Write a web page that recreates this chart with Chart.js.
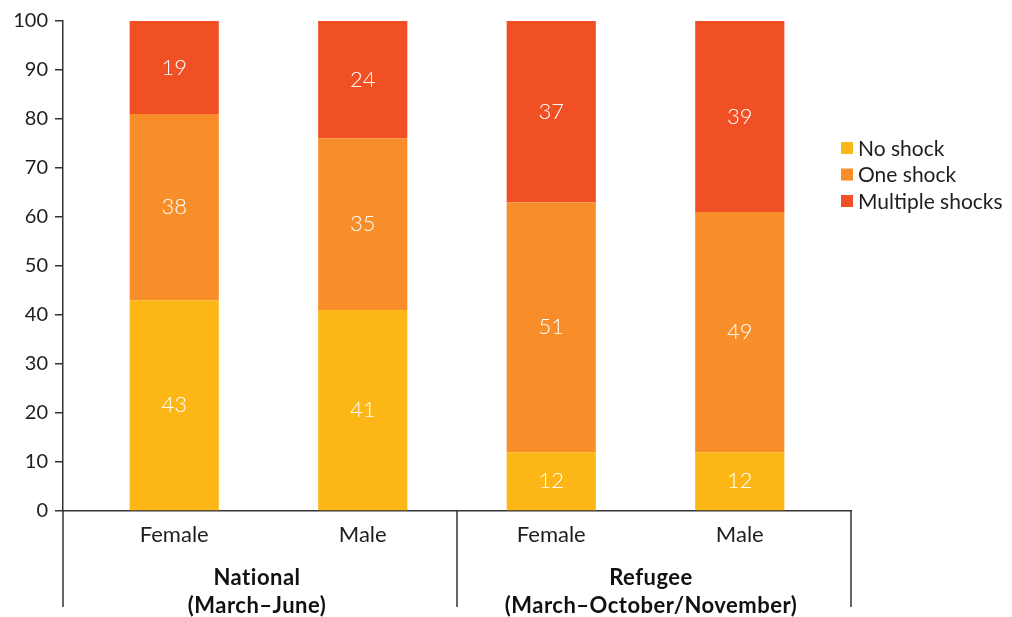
<!DOCTYPE html>
<html>
<head>
<meta charset="utf-8">
<title>Shocks by sex</title>
<script src="https://cdn.jsdelivr.net/npm/chart.js@4.4.1/dist/chart.umd.min.js"></script>
<style>
  html, body { margin: 0; padding: 0; background: #fff; }
  canvas { display: block; }
</style>
</head>
<body>
<canvas id="shockChart" width="1012" height="617"></canvas>
<script>
// chart data
const categories = ['Female', 'Male', 'Female', 'Male'];
const groupTitles = [['National', '(March–June)'], ['Refugee', '(March–October/November)']];
const seriesNames = ['No shock', 'One shock', 'Multiple shocks'];
const noShock = [43, 41, 12, 12];
const oneShock = [38, 35, 51, 49];
const multipleShocks = [19, 24, 37, 39];
const yTicks = [0, 10, 20, 30, 40, 50, 60, 70, 80, 90, 100];

const colors = ['#fcb716', '#f78e2a', '#f05024'];
const axisColor = '#333';
const textColor = '#1e1e1e';
const fontFamily = 'Lato, "Open Sans", sans-serif';

// bars sit at x = 1..4 on a linear index axis
const toPoints = arr => arr.map((v, i) => ({ x: i + 1, y: v }));

// white value text in the middle of each segment
const segmentLabels = {
    id: 'segmentLabels',
    afterDatasetsDraw(chart) {
        const ctx = chart.ctx;
        ctx.save();
        ctx.font = '300 22px ' + fontFamily;
        ctx.fillStyle = '#fff';
        ctx.textAlign = 'center';
        ctx.textBaseline = 'middle';
        chart.data.datasets.forEach((ds, di) => {
            chart.getDatasetMeta(di).data.forEach((bar, i) => {
                ctx.fillText(String(ds.data[i].y), bar.x, (bar.y + bar.base) / 2);
            });
        });
        ctx.restore();
    }
};

// group separators below the axis and the two group titles
const groupAxis = {
    id: 'groupAxis',
    afterDraw(chart) {
        const ctx = chart.ctx;
        const x = chart.scales.x;
        const area = chart.chartArea;
        const bottom = area.bottom + 96;
        const edges = [x.getPixelForValue(x.min), x.getPixelForValue(2.5), x.getPixelForValue(x.max)];
        ctx.save();
        ctx.strokeStyle = axisColor;
        ctx.lineWidth = 1.5;
        edges.forEach(px => {
            ctx.beginPath();
            ctx.moveTo(px, area.bottom);
            ctx.lineTo(px, bottom);
            ctx.stroke();
        });
        ctx.fillStyle = '#111';
        ctx.font = 'bold 22px ' + fontFamily;
        ctx.letterSpacing = '0.5px';
        ctx.textAlign = 'center';
        ctx.textBaseline = 'middle';
        groupTitles.forEach((lines, g) => {
            const cx = (edges[g] + edges[g + 1]) / 2 - 3;
            lines.forEach((line, l) => {
                ctx.fillText(line, cx, area.bottom + 67 + l * 28);
            });
        });
        ctx.restore();
    }
};

// legend to the right of the bars
const sideLegend = {
    id: 'sideLegend',
    afterDraw(chart) {
        const ctx = chart.ctx;
        const left = 841, top = 148, step = 26.5;
        ctx.save();
        ctx.font = '21px ' + fontFamily;
        ctx.textBaseline = 'middle';
        chart.data.datasets.forEach((ds, i) => {
            const y = top + i * step;
            ctx.fillStyle = ds.backgroundColor;
            ctx.fillRect(left, y - 6, 12, 12);
            ctx.fillStyle = textColor;
            ctx.fillText(ds.label, left + 17, y + 1);
        });
        ctx.restore();
    }
};

const ctx = document.getElementById('shockChart').getContext('2d');
const shockChart = new Chart(ctx, {
    type: 'bar',
    data: {
        datasets: [
            { label: seriesNames[0], data: toPoints(noShock), backgroundColor: colors[0] },
            { label: seriesNames[1], data: toPoints(oneShock), backgroundColor: colors[1] },
            { label: seriesNames[2], data: toPoints(multipleShocks), backgroundColor: colors[2] }
        ]
    },
    options: {
        responsive: false,
        animation: false,
        devicePixelRatio: 1,
        layout: { padding: { top: 21, right: 161, left: 0, bottom: 0 } },
        datasets: { bar: { categoryPercentage: 1, barPercentage: 0.473 } },
        scales: {
            x: {
                type: 'linear',
                offset: false,
                min: 0.41,
                max: 4.59,
                stacked: true,
                afterBuildTicks: s => { s.ticks = categories.map((c, i) => ({ value: i + 1 })); },
                afterFit: s => { s.height = 106; },
                grid: { display: false, drawTicks: false },
                border: { color: axisColor, width: 1.5 },
                ticks: {
                    padding: 11,
                    autoSkip: false,
                    maxRotation: 0,
                    color: textColor,
                    font: { family: fontFamily, size: 22 },
                    callback: v => categories[v - 1]
                }
            },
            y: {
                min: 0,
                max: 100,
                stacked: true,
                afterBuildTicks: s => { s.ticks = yTicks.map(v => ({ value: v })); },
                afterFit: s => { s.width = 63; },
                grid: { drawOnChartArea: false, tickLength: 8, color: axisColor, lineWidth: 1.5 },
                border: { color: axisColor, width: 1.5 },
                ticks: {
                    padding: 7,
                    color: textColor,
                    font: { family: fontFamily, size: 20 }
                }
            }
        },
        plugins: {
            legend: { display: false },
            tooltip: { enabled: false }
        }
    },
    plugins: [segmentLabels, groupAxis, sideLegend]
});
</script>
</body>
</html>
